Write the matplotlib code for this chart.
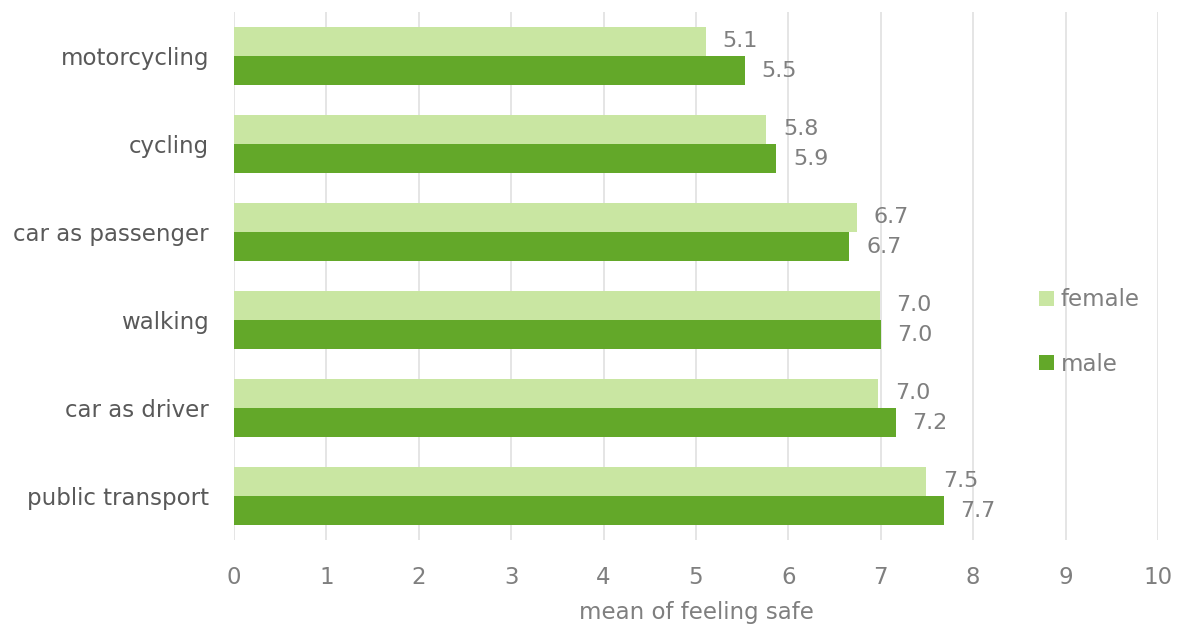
import matplotlib.pyplot as plt
import numpy as np

# data
categories = ["motorcycling", "cycling", "car as passenger", "walking",
              "car as driver", "public transport"]
female = [5.11, 5.76, 6.74, 6.99, 6.97, 7.49]
male = [5.53, 5.87, 6.66, 7.00, 7.16, 7.68]

light = "#c9e6a2"
dark = "#63a829"
grey = "#7f7f7f"

plt.rcParams['font.family'] = ['DejaVu Sans']
fig = plt.figure(figsize=(11.8, 6.27), dpi=100)
ax = fig.add_axes([234/1180, 1-540/627, (1158-234)/1180, 528/627])

y = np.arange(len(categories))
h = 0.33
ax.barh(y - h/2, female, height=h, color=light, label="female", zorder=2)
ax.barh(y + h/2, male, height=h, color=dark, label="male", zorder=2)

for yi, v in zip(y - h/2, female):
    ax.text(v + 0.18, yi, f"{v:.1f}", va="center", ha="left", fontsize=16, color=grey)
for yi, v in zip(y + h/2, male):
    ax.text(v + 0.18, yi, f"{v:.1f}", va="center", ha="left", fontsize=16, color=grey)

ax.set_xlim(0, 10)
ax.set_ylim(len(categories) - 0.5, -0.5)
ax.set_xticks(range(11))
ax.set_yticks(y)
ax.set_yticklabels(categories, fontsize=16.5, color="#595959")
ax.tick_params(axis="x", labelsize=16.5, labelcolor=grey, length=0, pad=19)
ax.tick_params(axis="y", length=0, pad=18)
ax.grid(axis="x", color="#e0e0e0", linewidth=1.2, zorder=0)
for s in ax.spines.values():
    s.set_visible(False)
ax.set_xlabel("mean of feeling safe", fontsize=16.5, color=grey, labelpad=8)

fig.legend(loc="center left", bbox_to_anchor=(1018/1180, 1-332/627), frameon=False,
           fontsize=16.5, labelcolor=grey, handlelength=0.65, handleheight=0.65,
           handletextpad=0.3, labelspacing=1.8)

fig.savefig("out.png", dpi=100)
